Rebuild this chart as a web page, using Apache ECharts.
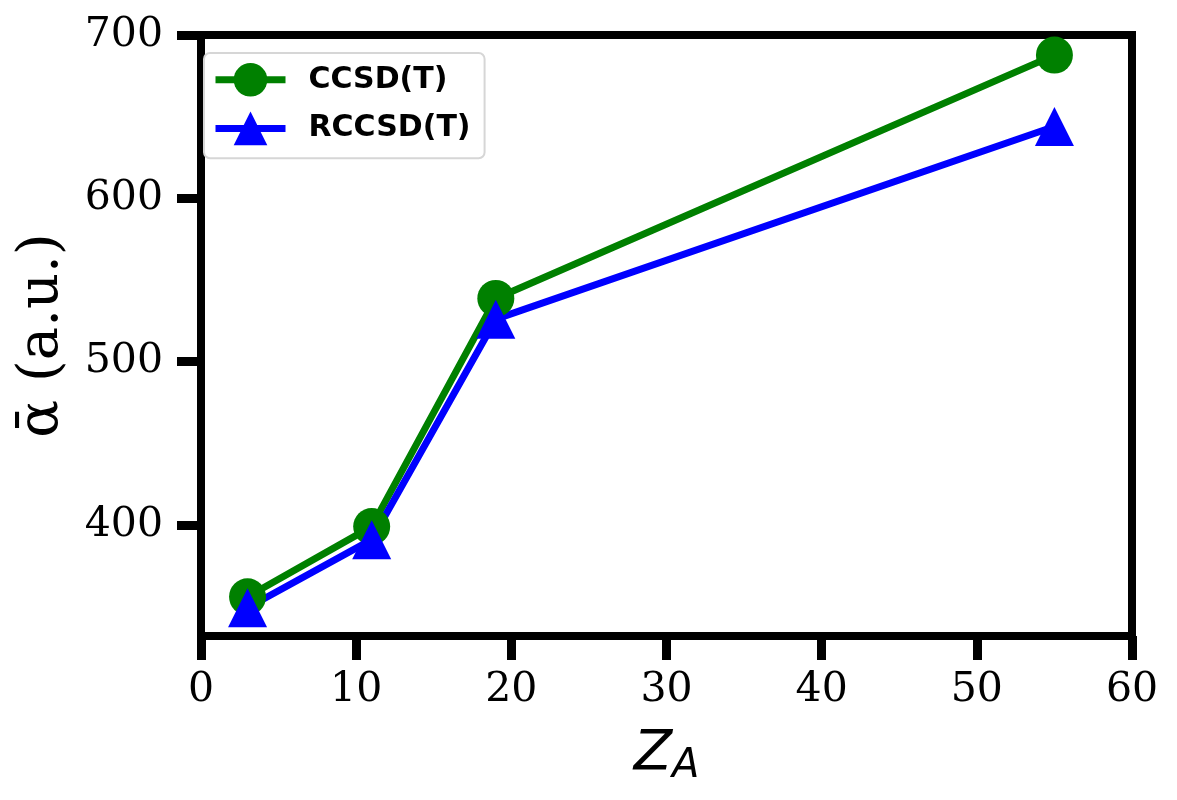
<!DOCTYPE html>
<html>
<head>
<meta charset="utf-8">
<script src="https://cdn.jsdelivr.net/npm/echarts@6/dist/echarts.min.js"></script>
<style>
  html, body { margin: 0; padding: 0; background: #fff; }
  #chart { width: 1177px; height: 800px; }
</style>
</head>
<body>
<div id="chart"></div>
<script>
// atomic number of A
const zValues = [3, 11, 19, 55]
// polarizabilities (a.u.)
const ccsdValues = [356, 399, 538.7, 687.7]
const rccsdValues = [349.3, 391, 526, 644]
const seriesNames = ['CCSD(T)', 'RCCSD(T)']
const xTicks = [0, 10, 20, 30, 40, 50, 60]
const yTicks = [400, 500, 600, 700]

const pairs = (ys) => zValues.map((x, i) => [x, ys[i]])

const chart = echarts.init(document.getElementById('chart'), null, { renderer: 'canvas' })

const tickFont = { fontFamily: 'DejaVu Serif', fontSize: 41, color: '#000' }

chart.setOption({
  backgroundColor: '#fff',
  animation: false,
  grid: {
    left: 201, right: 45, top: 35, bottom: 164,
    show: true, borderColor: '#000', borderWidth: 8
  },
  legend: {
    orient: 'vertical',
    left: 204, top: 53,
    padding: [10, 14, 13, 8],
    itemWidth: 70, itemHeight: 42, itemGap: 15,
    backgroundColor: '#fff',
    borderColor: '#d6d6d6', borderWidth: 2, borderRadius: 6,
    lineStyle: { width: 7 },
    textStyle: {
      fontFamily: 'DejaVu Sans', fontWeight: 'bold', fontSize: 30, color: '#000',
      padding: [0, 0, 0, 18]
    },
    data: seriesNames
  },
  xAxis: {
    type: 'value',
    min: 0, max: 60, interval: 10,
    name: '{z|Z}{a|A}',
    nameLocation: 'middle',
    nameGap: 88,
    nameTextStyle: {
      rich: {
        z: { fontFamily: 'DejaVu Sans', fontStyle: 'italic', fontSize: 56, color: '#000', lineHeight: 60 },
        a: { fontFamily: 'DejaVu Sans', fontStyle: 'italic', fontSize: 40, color: '#000', lineHeight: 60, padding: [26, 0, 0, 0] }
      }
    },
    axisLine: { lineStyle: { color: '#000', width: 8 } },
    axisTick: { length: 24, lineStyle: { color: '#000', width: 9 }, customValues: xTicks },
    axisLabel: { ...tickFont, margin: 34, customValues: xTicks },
    splitLine: { show: false }
  },
  yAxis: {
    type: 'value',
    min: 332, max: 700,
    name: 'ᾱ (a.u.)',
    nameLocation: 'middle',
    nameRotate: 90,
    nameGap: 131,
    nameTextStyle: { fontFamily: 'DejaVu Serif', fontSize: 56, color: '#000' },
    axisLine: { lineStyle: { color: '#000', width: 8 } },
    axisTick: { length: 24, lineStyle: { color: '#000', width: 9 }, customValues: yTicks },
    axisLabel: { ...tickFont, margin: 38, customValues: yTicks },
    splitLine: { show: false }
  },
  series: [
    {
      name: seriesNames[0],
      type: 'line',
      data: pairs(ccsdValues),
      symbol: 'circle', symbolSize: 37,
      lineStyle: { color: '#008000', width: 7 },
      itemStyle: { color: '#008000' }
    },
    {
      name: seriesNames[1],
      type: 'line',
      data: pairs(rccsdValues),
      symbol: 'triangle', symbolSize: [39, 39],
      lineStyle: { color: '#0000ff', width: 7 },
      itemStyle: { color: '#0000ff' }
    }
  ]
})
</script>
</body>
</html>
